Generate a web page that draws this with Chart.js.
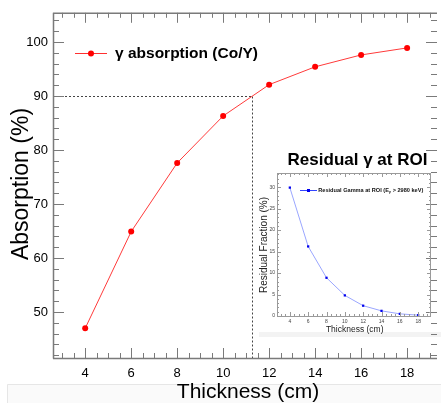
<!DOCTYPE html>
<html><head><meta charset="utf-8">
<script src="https://cdn.jsdelivr.net/npm/chart.js@4.4.1/dist/chart.umd.min.js"></script>
<style>
html,body{margin:0;padding:0;background:#fff;overflow:hidden;width:441px;height:403px;}
#wrap{position:relative;width:441px;height:403px;}
#main{position:absolute;left:0;top:0;}
#inset{position:absolute;left:250px;top:140px;}
</style></head><body>
<div id="wrap"><canvas id="main" width="441" height="403"></canvas><canvas id="inset" width="191" height="200"></canvas></div>
<script>
// ---- data ----
const thickness = [4, 6, 8, 10, 12, 14, 16, 18];
const absorption = [47.0, 64.9, 77.6, 86.3, 92.1, 95.4, 97.6, 98.9];
const residualFraction = [29.9, 16.2, 8.9, 4.8, 2.4, 1.2, 0.5, 0.2];
const xTickLabels = [4, 6, 8, 10, 12, 14, 16, 18];
const mainYTickLabels = [50, 60, 70, 80, 90, 100];
const insetYTickLabels = [0, 5, 10, 15, 20, 25, 30];
const absorptionTarget = 90;
const targetThickness = 11.25;
const mainLegend = 'γ absorption (Co/Y)';
const mainXTitle = 'Thickness (cm)';
const mainYTitle = 'Absorption (%)';
const insetTitle = 'Residual γ at ROI';
const insetXTitle = 'Thickness (cm)';
const insetYTitle = 'Residual Fraction (%)';

const FONT = '"Liberation Sans", Arial, Helvetica, sans-serif';

function ticksOn(ctx, chart, o) {
  const {left, right, top, bottom} = chart.chartArea;
  const xs = chart.scales.x, ys = chart.scales.y;
  ctx.save();
  ctx.strokeStyle = o.color; ctx.lineWidth = 1;
  ctx.beginPath();
  const i0 = Math.ceil(xs.min / o.xMinor - 1e-9), i1 = Math.floor(xs.max / o.xMinor + 1e-9);
  for (let i = i0; i <= i1; i++) {
    const v = i * o.xMinor;
    const major = Math.abs(v / o.xMajor - Math.round(v / o.xMajor)) < 1e-6;
    const px = Math.round(xs.getPixelForValue(v)) + 0.5;
    const Lb = major ? o.xMajLen : o.xMinLen;
    ctx.moveTo(px, bottom); ctx.lineTo(px, bottom - Lb);
    ctx.moveTo(px, top); ctx.lineTo(px, top + Lb);
  }
  const j0 = Math.ceil(ys.min / o.yMinor - 1e-9), j1 = Math.floor(ys.max / o.yMinor + 1e-9);
  for (let j = j0; j <= j1; j++) {
    const v = j * o.yMinor;
    const major = Math.abs(v / o.yMajor - Math.round(v / o.yMajor)) < 1e-6;
    const py = Math.round(ys.getPixelForValue(v)) + 0.5;
    const L = major ? o.yMajLen : o.yMinLen;
    ctx.moveTo(left, py); ctx.lineTo(left + L, py);
    ctx.moveTo(right, py); ctx.lineTo(right - L, py);
  }
  ctx.stroke();
  ctx.lineWidth = o.axisWidth;
  ctx.beginPath();
  ctx.moveTo(left + 0.5, top); ctx.lineTo(left + 0.5, bottom + 0.5);
  ctx.moveTo(left, bottom + 0.5); ctx.lineTo(right, bottom + 0.5);
  ctx.moveTo(left, top + 0.5); ctx.lineTo(right, top + 0.5);
  if (o.rightLine) { ctx.moveTo(right - 0.5, top); ctx.lineTo(right - 0.5, bottom); }
  ctx.stroke();
  ctx.restore();
}

const mainDeco = {
  id: 'mainDeco',
  beforeDraw(chart) {
    const ctx = chart.ctx;
    ctx.save();
    ctx.fillStyle = '#fafafa';
    ctx.fillRect(7, 384, 434, 19);
    ctx.strokeStyle = '#e6e6e6'; ctx.lineWidth = 1;
    ctx.beginPath(); ctx.moveTo(7.5, 403); ctx.lineTo(7.5, 384.5); ctx.lineTo(441, 384.5); ctx.stroke();
    ctx.fillStyle = '#f3f3f3';
    ctx.fillRect(259, 332, 182, 5);
    ctx.restore();
  },
  beforeDatasetsDraw(chart) {
    const ctx = chart.ctx, xs = chart.scales.x, ys = chart.scales.y;
    const {left, bottom} = chart.chartArea;
    const py = Math.round(ys.getPixelForValue(absorptionTarget)) + 0.5;
    const px = Math.round(xs.getPixelForValue(targetThickness)) + 0.5;
    ctx.save();
    ctx.strokeStyle = '#444'; ctx.lineWidth = 1; ctx.setLineDash([2, 2]);
    ctx.beginPath();
    ctx.moveTo(left, py); ctx.lineTo(px, py);
    ctx.moveTo(px, py); ctx.lineTo(px, bottom);
    ctx.stroke();
    ctx.restore();
  },
  afterDraw(chart) {
    const ctx = chart.ctx;
    ticksOn(ctx, chart, {color: '#7a7a7a', axisWidth: 1.5, xMinor: 0.5, xMajor: 2, yMinor: 2, yMajor: 10,
      xMajLen: 10, xMinLen: 5, yMajLen: 11, yMinLen: 6, rightLine: false});
    ctx.save();
    ctx.fillStyle = '#000';
    ctx.font = '21px ' + FONT;
    ctx.textAlign = 'center'; ctx.textBaseline = 'alphabetic';
    ctx.fillText(mainXTitle, 248, 398);
    ctx.save();
    ctx.translate(28, 184); ctx.rotate(-Math.PI / 2);
    ctx.font = '23px ' + FONT;
    ctx.fillText(mainYTitle, 0, 0);
    ctx.restore();
    // legend
    ctx.strokeStyle = '#ff3030'; ctx.lineWidth = 1;
    ctx.beginPath(); ctx.moveTo(75, 53.5); ctx.lineTo(107, 53.5); ctx.stroke();
    ctx.fillStyle = '#ff0000';
    ctx.beginPath(); ctx.arc(91, 53.5, 3, 0, Math.PI * 2); ctx.fill();
    ctx.fillStyle = '#000';
    ctx.font = 'bold 15.5px ' + FONT;
    ctx.textAlign = 'left'; ctx.textBaseline = 'middle';
    ctx.fillText(mainLegend, 115, 54);
    ctx.restore();
  }
};

new Chart(document.getElementById('main'), {
  type: 'line',
  data: {datasets: [{
    data: thickness.map((t, i) => ({x: t, y: absorption[i]})),
    borderColor: '#ff3a3a', borderWidth: 1, tension: 0,
    pointRadius: 3, pointBackgroundColor: '#ff0000', pointBorderColor: '#ff0000', pointBorderWidth: 0
  }]},
  options: {
    responsive: false, animation: false, devicePixelRatio: 1,
    layout: {padding: {top: 10, right: 0, left: 0, bottom: 0}},
    plugins: {legend: {display: false}, tooltip: {enabled: false}},
    scales: {
      x: {type: 'linear', min: 2.6, max: 19.3,
        grid: {display: false, drawTicks: false}, border: {display: false},
        afterBuildTicks: s => { s.ticks = xTickLabels.map(v => ({value: v})); },
        afterFit: s => { s.height = 45; },
        ticks: {font: {family: FONT, size: 13}, color: '#000', padding: 8, maxRotation: 0, autoSkip: false}},
      y: {type: 'linear', min: 41.5, max: 105.4,
        grid: {display: false, drawTicks: false}, border: {display: false},
        afterBuildTicks: s => { s.ticks = mainYTickLabels.map(v => ({value: v})); },
        afterFit: s => { s.width = 53; },
        ticks: {font: {family: FONT, size: 13}, color: '#000', padding: 5, autoSkip: false}}
    }
  },
  plugins: [mainDeco]
});

const insetDeco = {
  id: 'insetDeco',
  afterDraw(chart) {
    const ctx = chart.ctx;
    ticksOn(ctx, chart, {color: '#9a9a9a', axisWidth: 1, xMinor: 0.5, xMajor: 2, yMinor: 1, yMajor: 5,
      xMajLen: 4, xMinLen: 2, yMajLen: 4, yMinLen: 2, rightLine: true});
    ctx.save();
    ctx.fillStyle = '#000';
    ctx.font = 'bold 17px ' + FONT;
    ctx.textAlign = 'center'; ctx.textBaseline = 'alphabetic';
    ctx.fillText(insetTitle, 107.5, 25);
    ctx.fillStyle = '#222';
    ctx.font = '8.5px ' + FONT;
    ctx.textBaseline = 'middle';
    ctx.fillText(insetXTitle, 104.7, 190);
    ctx.save();
    ctx.translate(14, 105); ctx.rotate(-Math.PI / 2);
    ctx.font = '10px ' + FONT;
    ctx.fillText(insetYTitle, 0, 0);
    ctx.restore();
    // legend
    ctx.strokeStyle = '#3344ff'; ctx.lineWidth = 1;
    ctx.beginPath(); ctx.moveTo(50, 50.5); ctx.lineTo(67, 50.5); ctx.stroke();
    ctx.fillStyle = '#0000ee';
    ctx.fillRect(57, 49, 3, 3);
    ctx.fillStyle = '#111';
    ctx.textAlign = 'left';
    ctx.font = 'bold 5.6px ' + FONT;
    const part1 = 'Residual Gamma at ROI (E';
    let x = 68.3;
    ctx.fillText(part1, x, 50);
    x += ctx.measureText(part1).width;
    ctx.font = 'bold 4px ' + FONT;
    ctx.fillText('γ', x, 52);
    x += ctx.measureText('γ').width;
    ctx.font = 'bold 5.6px ' + FONT;
    ctx.fillText(' > 2980 keV)', x, 50);
    ctx.restore();
  }
};

new Chart(document.getElementById('inset'), {
  type: 'line',
  data: {datasets: [{
    data: thickness.map((t, i) => ({x: t, y: residualFraction[i]})),
    borderColor: '#9aa6ff', borderWidth: 1, tension: 0,
    pointStyle: 'rect', pointRadius: 1.6, pointBackgroundColor: '#0000ee', pointBorderColor: '#0000ee', pointBorderWidth: 0
  }]},
  options: {
    responsive: false, animation: false, devicePixelRatio: 1,
    layout: {padding: {top: 33, right: 10, left: 0, bottom: 0}},
    plugins: {legend: {display: false}, tooltip: {enabled: false}},
    scales: {
      x: {type: 'linear', min: 2.6, max: 19.4,
        grid: {display: false, drawTicks: false}, border: {display: false},
        afterBuildTicks: s => { s.ticks = xTickLabels.map(v => ({value: v})); },
        afterFit: s => { s.height = 24; },
        ticks: {font: {family: FONT, size: 5}, color: '#444', padding: 3, maxRotation: 0, autoSkip: false}},
      y: {type: 'linear', min: 0, max: 33.3,
        grid: {display: false, drawTicks: false}, border: {display: false},
        afterBuildTicks: s => { s.ticks = insetYTickLabels.map(v => ({value: v})); },
        afterFit: s => { s.width = 27; },
        ticks: {font: {family: FONT, size: 5}, color: '#444', padding: 2, autoSkip: false}}
    }
  },
  plugins: [insetDeco]
});
</script>
</body></html>
